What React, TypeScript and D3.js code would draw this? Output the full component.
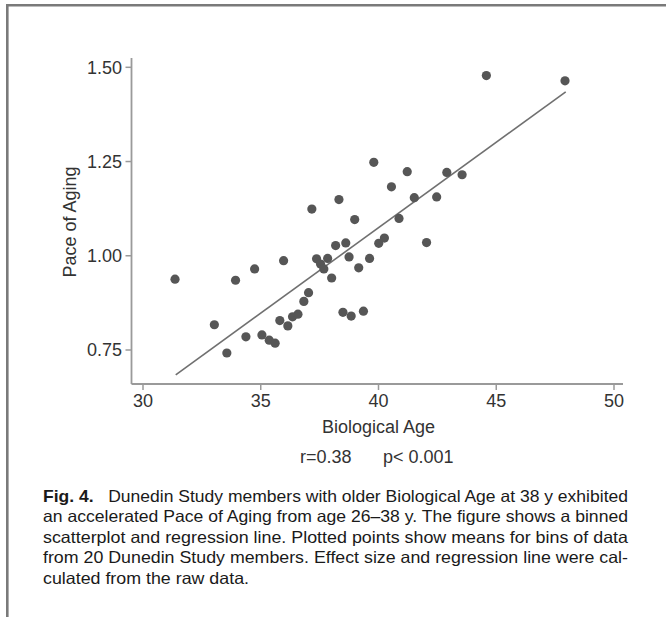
import React from "react";
import * as d3 from "d3";

// Binned means: biological age at 38 vs. pace of aging
const ageValues = [
  31.36, 33.03, 33.56, 33.93, 34.37, 34.74, 35.05, 35.36, 35.61, 35.81,
  35.97, 36.15, 36.35, 36.58, 36.83, 37.03, 37.17, 37.37, 37.54, 37.68,
  37.84, 38.01, 38.18, 38.32, 38.49, 38.61, 38.75, 38.84, 38.99, 39.16,
  39.36, 39.62, 39.8, 40.01, 40.25, 40.55, 40.87, 41.22, 41.52, 42.04,
  42.47, 42.9, 43.55, 44.58, 47.92,
];
const paceValues = [
  0.938, 0.817, 0.742, 0.935, 0.785, 0.965, 0.79, 0.776, 0.768, 0.828,
  0.987, 0.814, 0.838, 0.845, 0.879, 0.902, 1.124, 0.992, 0.978, 0.965,
  0.993, 0.941, 1.027, 1.149, 0.85, 1.034, 0.997, 0.84, 1.096, 0.968,
  0.853, 0.993, 1.248, 1.033, 1.047, 1.183, 1.099, 1.223, 1.154, 1.035,
  1.156, 1.221, 1.215, 1.478, 1.464,
];

// Fitted regression line (from raw data)
const fitIntercept = -0.7395;
const fitSlope = 0.04535;
const fitRange = [31.39, 47.95];

const xTicks = [30, 35, 40, 45, 50];
const yTicks = [0.75, 1.0, 1.25, 1.5];

const xTitle = "Biological Age";
const yTitle = "Pace of Aging";
const statsLeft = "r=0.38";
const statsRight = "p< 0.001";

const captionLabel = "Fig. 4.";
const captionLines = [
  "Dunedin Study members with older Biological Age at 38 y exhibited",
  "an accelerated Pace of Aging from age 26\u201338 y. The figure shows a binned",
  "scatterplot and regression line. Plotted points show means for bins of data",
  "from 20 Dunedin Study members. Effect size and regression line were cal-",
  "culated from the raw data.",
];

const W = 666;
const H = 617;

export default function App() {
  const x = d3.scaleLinear().domain([30, 50]).range([143, 614]);
  const y = d3.scaleLinear().domain([0.75, 1.5]).range([350, 67.3]);

  const axisX0 = 131.5;
  const axisX1 = 623;
  const axisY0 = 384;
  const axisY1 = 58;

  const font = "'Liberation Sans', Arial, Helvetica, sans-serif";
  const axisColor = "#9a9a9a";
  const textColor = "#333";

  const line = d3
    .line<number>()
    .x((d) => x(d))
    .y((d) => y(fitIntercept + fitSlope * d));

  const points = ageValues.map((a, i) => ({ a, p: paceValues[i] }));

  const capX0 = 43;
  const capX1 = 628;
  const capY0 = 502;
  const capStep = 20.4;

  return (
    <svg
      width={W}
      height={H}
      style={{ position: "absolute", left: 0, top: 0, display: "block", background: "#fff" }}
      fontFamily={font}
    >
      <rect x={0} y={0} width={W} height={H} fill="#fff" />
      {/* figure frame: top and left edges */}
      <line x1={7.3} y1={5.3} x2={W} y2={5.3} stroke="#7a7a7a" strokeWidth={2.6} />
      <line x1={7.3} y1={4} x2={7.3} y2={H} stroke="#7a7a7a" strokeWidth={2.6} />

      {/* axes */}
      <line x1={axisX0} y1={axisY0} x2={axisX1} y2={axisY0} stroke={axisColor} strokeWidth={1.8} />
      <line x1={axisX0} y1={axisY0} x2={axisX0} y2={axisY1} stroke={axisColor} strokeWidth={1.8} />

      {xTicks.map((t) => (
        <g key={"xt" + t}>
          <line x1={x(t)} x2={x(t)} y1={axisY0} y2={axisY0 + 6} stroke={axisColor} strokeWidth={1.5} />
          <text x={x(t)} y={407} textAnchor="middle" fontSize={18} fill={textColor}>
            {t}
          </text>
        </g>
      ))}
      {yTicks.map((t) => (
        <g key={"yt" + t}>
          <line x1={axisX0 - 6} x2={axisX0} y1={y(t)} y2={y(t)} stroke={axisColor} strokeWidth={1.5} />
          <text x={122} y={y(t)} dy="0.36em" textAnchor="end" fontSize={18} fill={textColor}>
            {d3.format(".2f")(t)}
          </text>
        </g>
      ))}

      {/* regression line */}
      <path d={line(fitRange) || ""} fill="none" stroke="#707070" strokeWidth={1.6} />

      {/* binned points */}
      {points.map((d, i) => (
        <circle key={i} cx={x(d.a)} cy={y(d.p)} r={4.6} fill="#565656" />
      ))}

      {/* axis titles */}
      <text x={378.5} y={433} textAnchor="middle" fontSize={18} fill={textColor}>
        {xTitle}
      </text>
      <text
        transform={`translate(76, 222) rotate(-90)`}
        textAnchor="middle"
        fontSize={18}
        fill={textColor}
      >
        {yTitle}
      </text>
      <text x={300} y={463} fontSize={18} fill={textColor}>
        {statsLeft}
      </text>
      <text x={383} y={463} fontSize={18} fill={textColor}>
        {statsRight}
      </text>

      {/* caption */}
      {captionLines.map((ln, i) => {
        const justify = i < captionLines.length - 1;
        return (
          <text
            key={"cap" + i}
            x={capX0}
            y={capY0 + i * capStep}
            fontSize={16.5}
            fill="#1a1a1a"
            textLength={justify ? capX1 - capX0 : 206}
            lengthAdjust="spacingAndGlyphs"
          >
            {i === 0 ? (
              <>
                <tspan fontWeight="bold">{captionLabel}</tspan>
                <tspan>{"\u00a0\u00a0\u00a0" + ln}</tspan>
              </>
            ) : (
              ln
            )}
          </text>
        );
      })}
    </svg>
  );
}
